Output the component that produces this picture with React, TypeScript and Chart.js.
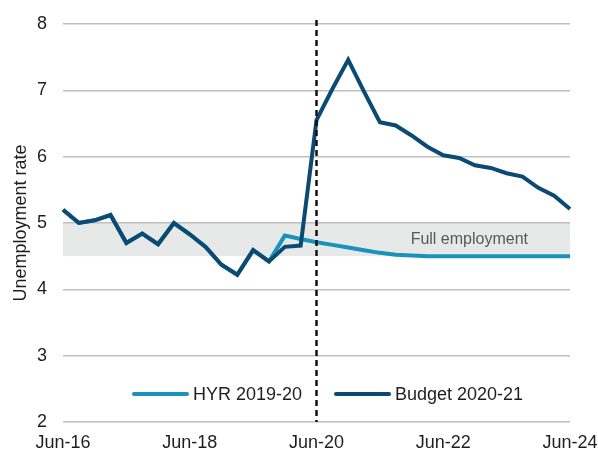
import React, { useEffect, useRef } from "react";
import { Chart, registerables } from "chart.js";

Chart.register(...registerables);

const QUARTERS = [
  "Jun-16", "Sep-16", "Dec-16", "Mar-17",
  "Jun-17", "Sep-17", "Dec-17", "Mar-18",
  "Jun-18", "Sep-18", "Dec-18", "Mar-19",
  "Jun-19", "Sep-19", "Dec-19", "Mar-20",
  "Jun-20", "Sep-20", "Dec-20", "Mar-21",
  "Jun-21", "Sep-21", "Dec-21", "Mar-22",
  "Jun-22", "Sep-22", "Dec-22", "Mar-23",
  "Jun-23", "Sep-23", "Dec-23", "Mar-24",
  "Jun-24",
];

const TICK_LABELS = ["Jun-16", "Jun-18", "Jun-20", "Jun-22", "Jun-24"];

const BUDGET_2020_21 = [
  5.2, 5.0, 5.04, 5.12,
  4.7, 4.84, 4.68, 5.0,
  4.83, 4.64, 4.37, 4.22,
  4.59, 4.42, 4.64, 4.66,
  6.55, 7.02, 7.46, 6.98,
  6.52, 6.47, 6.32, 6.15,
  6.02, 5.98, 5.87, 5.83,
  5.75, 5.7, 5.53, 5.41,
  5.21,
];

const HYR_2019_20 = [
  5.2, 5.0, 5.04, 5.12,
  4.7, 4.84, 4.68, 5.0,
  4.83, 4.64, 4.37, 4.22,
  4.59, 4.42, 4.81, 4.76,
  4.71, 4.67, 4.63, 4.59,
  4.55, 4.52, 4.51, 4.5,
  4.5, 4.5, 4.5, 4.5,
  4.5, 4.5, 4.5, 4.5,
  4.5,
];

const FULL_EMPLOYMENT_BAND = [4.5, 5.0];
const MARKER_QUARTER = "Jun-20";

const DARK = "#0b4a72";
const LIGHT = "#1a93ba";
const FONT = "'Liberation Sans', Arial, sans-serif";
const TEXT = "#1e1e1e";

const overlayPlugin = {
  id: "overlay",
  beforeDraw(chart: any) {
    const { ctx, chartArea, scales } = chart;
    const y = scales.y;
    const top = y.getPixelForValue(FULL_EMPLOYMENT_BAND[1]);
    const bot = y.getPixelForValue(FULL_EMPLOYMENT_BAND[0]);
    ctx.save();
    ctx.fillStyle = "#e7e8e8";
    ctx.fillRect(chartArea.left, top, chartArea.right - chartArea.left, bot - top);
    ctx.restore();
  },
  beforeDatasetsDraw(chart: any) {
    const { ctx, chartArea, scales } = chart;
    const y = scales.y;
    const mid = y.getPixelForValue((FULL_EMPLOYMENT_BAND[0] + FULL_EMPLOYMENT_BAND[1]) / 2);
    ctx.save();
    ctx.font = `16px ${FONT}`;
    ctx.fillStyle = "#595959";
    ctx.textAlign = "right";
    ctx.textBaseline = "middle";
    ctx.fillText("Full employment", chartArea.right - 42, mid);
    ctx.restore();
  },
  afterDatasetsDraw(chart: any) {
    const { ctx, chartArea, scales } = chart;
    const x = scales.x.getPixelForValue(QUARTERS.indexOf(MARKER_QUARTER));
    ctx.save();
    ctx.strokeStyle = "#111111";
    ctx.lineWidth = 2.5;
    ctx.setLineDash([6, 4]);
    ctx.beginPath();
    ctx.moveTo(x, chartArea.top - 4);
    ctx.lineTo(x, chartArea.bottom);
    ctx.stroke();
    ctx.restore();
  },
  afterDraw(chart: any) {
    const { ctx, chartArea } = chart;
    const ly = 394;
    const items = [
      { label: "HYR 2019-20", color: LIGHT, x: chartArea.left + 71 },
      { label: "Budget 2020-21", color: DARK, x: chartArea.left + 273 },
    ];
    ctx.save();
    ctx.font = `18px ${FONT}`;
    ctx.textBaseline = "middle";
    ctx.textAlign = "left";
    for (const it of items) {
      ctx.strokeStyle = it.color;
      ctx.lineWidth = 4;
      ctx.lineCap = "round";
      ctx.beginPath();
      ctx.moveTo(it.x, ly);
      ctx.lineTo(it.x + 53, ly);
      ctx.stroke();
      ctx.fillStyle = TEXT;
      ctx.fillText(it.label, it.x + 59, ly + 1);
    }
    ctx.restore();
  },
};

export default function App() {
  const ref = useRef<HTMLCanvasElement | null>(null);

  useEffect(() => {
    if (!ref.current) return;
    const chart = new Chart(ref.current, {
      type: "line",
      data: {
        labels: QUARTERS,
        datasets: [
          {
            label: "Budget 2020-21",
            data: BUDGET_2020_21,
            borderColor: DARK,
            backgroundColor: DARK,
            borderWidth: 4,
            pointRadius: 0,
            tension: 0,
            order: 0,
          },
          {
            label: "HYR 2019-20",
            data: HYR_2019_20,
            borderColor: LIGHT,
            backgroundColor: LIGHT,
            borderWidth: 4,
            pointRadius: 0,
            tension: 0,
            order: 1,
          },
        ],
      },
      options: {
        responsive: false,
        animation: false,
        layout: { padding: { left: 0, right: 28, top: 24, bottom: 0 } },
        plugins: {
          legend: { display: false },
          tooltip: { enabled: false },
        },
        scales: {
          x: {
            type: "category",
            offset: false,
            grid: { display: false, drawTicks: false },
            border: { display: false },
            ticks: {
              autoSkip: false,
              maxRotation: 0,
              padding: 10,
              color: TEXT,
              font: { family: FONT, size: 18 },
              callback: (_v: any, idx: number) =>
                TICK_LABELS.includes(QUARTERS[idx]) ? QUARTERS[idx] : "",
            },
            afterFit: (s: any) => {
              s.height = 30;
              s.paddingLeft = 0;
              s.paddingRight = 0;
            },
          },
          y: {
            min: 2,
            max: 8,
            grid: { color: "#bfbfbf", lineWidth: 1.5, drawTicks: false },
            border: { display: false },
            ticks: {
              stepSize: 1,
              padding: 16,
              color: TEXT,
              font: { family: FONT, size: 18 },
            },
            title: {
              display: true,
              text: "Unemployment rate",
              color: TEXT,
              font: { family: FONT, size: 18 },
              padding: { top: 10, bottom: 0 },
            },
            afterFit: (s: any) => {
              s.width = 63;
              s.paddingTop = 0;
              s.paddingBottom = 0;
            },
          },
        },
      },
      plugins: [overlayPlugin],
    });
    return () => chart.destroy();
  }, []);

  return (
    <div style={{ position: "absolute", left: 0, top: 0, width: 598, height: 452, background: "#fff" }}>
      <canvas ref={ref} width={598} height={452} />
    </div>
  );
}
